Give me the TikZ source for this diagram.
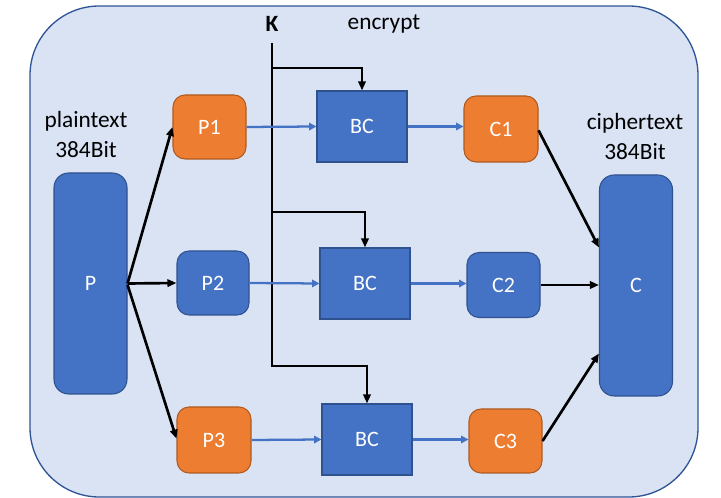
\documentclass[tikz,border=0pt]{standalone}
\usepackage{fontspec}
\setmainfont{Carlito}
\usetikzlibrary{arrows.meta}
\definecolor{bgfill}{HTML}{DAE3F3}
\definecolor{bgline}{HTML}{2F5597}
\definecolor{bluefill}{HTML}{4472C4}
\definecolor{blueline}{HTML}{2F528F}
\definecolor{orfill}{HTML}{ED7D31}
\definecolor{orline}{HTML}{AE5A21}
\begin{document}
\begin{tikzpicture}[x=0.75pt,y=-0.75pt,
  bgbox/.style={draw=bgline,fill=bgfill,line width=1pt,rounded corners=52pt},
  boxtext/.style={text=white,font=\fontsize{16.5}{19}\selectfont,inner sep=0pt},
  bluebox/.style={boxtext,draw=blueline,fill=bluefill,line width=0.8pt,rounded corners=9pt,minimum width={73*0.75pt},minimum height={65*0.75pt}},
  orbox/.style={bluebox,draw=orline,fill=orfill},
  bcbox/.style={boxtext,draw=blueline,fill=bluefill,line width=0.8pt,minimum width={90*0.75pt},minimum height={71*0.75pt}},
  bigbox/.style={boxtext,draw=blueline,fill=bluefill,line width=0.8pt,rounded corners=11pt,minimum width={73*0.75pt},minimum height={221*0.75pt}},
  lbl/.style={font=\fontsize{17.5}{21}\selectfont,align=center,inner sep=0pt},
  karrow/.style={line width=2pt,-{Triangle[length=6.75pt,width=5.5pt]}},
  barrow/.style={draw=bluefill,line width=1.7pt,-{Triangle[length=5.5pt,width=5.5pt]}}
]
\useasboundingbox (0,0) rectangle (721,498);
\draw[bgbox] (30,6) rectangle (698,497);

% labels
\node[lbl] (ptl) at (86,121) {plaintext};
\node[lbl] (ptb) at (86,150) {384Bit};
\node[lbl] (ctl) at (635,123) {ciphertext};
\node[lbl] (ctb) at (635,152) {384Bit};
\node[lbl,font=\fontsize{17.5}{21}\selectfont\bfseries] (K) at (272,24) {K};
\node[lbl] (enc) at (384,24) {encrypt};

% big boxes
\node[bigbox] (P) at (90.5,283.5) {P};
\node[bigbox] (C) at (636,285.5) {C};

% row 1
\node[orbox,minimum height={64*0.75pt}] (P1) at (209.5,127) {P1};
\node[bcbox] (BC1) at (362,126.5) {BC};
\node[orbox,minimum width={74*0.75pt},minimum height={66*0.75pt}] (C1) at (501,129) {C1};
% row 2
\node[bluebox,minimum width={72*0.75pt},minimum height={64*0.75pt}] (P2) at (213,283) {P2};
\node[bcbox] (BC2) at (365,283.5) {BC};
\node[bluebox] (C2) at (503.5,285) {C2};
% row 3
\node[orbox,minimum width={74*0.75pt},minimum height={66*0.75pt}] (P3) at (214,440) {P3};
\node[bcbox] (BC3) at (367,439.5) {BC};
\node[orbox,minimum height={64*0.75pt}] (C3) at (505.5,441) {C3};

% key line
\coordinate (Ktop) at (272,43);
\coordinate (Kb1) at (272,68);
\coordinate (Kb2) at (272,212);
\coordinate (Kb3) at (272,366);
\draw[line width=2pt] (Ktop) -- (Kb3);
\draw[karrow,line width=1.7pt] (Kb1) -| (BC1.north);
\draw[karrow,line width=1.7pt] (Kb2) -| (BC2.north);
\draw[karrow,line width=1.7pt] ([xshift=-0.6pt]Kb3) -| (BC3.north);

% blue arrows
\draw[barrow] (P1.east) -- (BC1.west);
\draw[barrow] (BC1.east) -- (BC1.east -| C1.west);
\draw[barrow] (P2.east) -- (BC2.west);
\draw[barrow] (BC2.east) -- (BC2.east -| C2.west);
\draw[barrow] (P3.east) -- (BC3.west);
\draw[barrow] (BC3.east) -- (BC3.east -| C3.west);

% split arrows
\draw[karrow] (P.east) -- (P1.west);
\draw[karrow] (P.east) -- (P2.west);
\draw[karrow] ([yshift=-1pt]P.east) -- ([yshift=1pt]P3.west);

% merge arrows
\draw[karrow] ([yshift=-1pt]C1.east) -- ([yshift=28.5pt]C.west);
\draw[karrow] (C2.east) -- (C2.east -| C.west);
\draw[karrow] (C3.east) -- ([yshift=-51pt]C.west);
\end{tikzpicture}
\end{document}
